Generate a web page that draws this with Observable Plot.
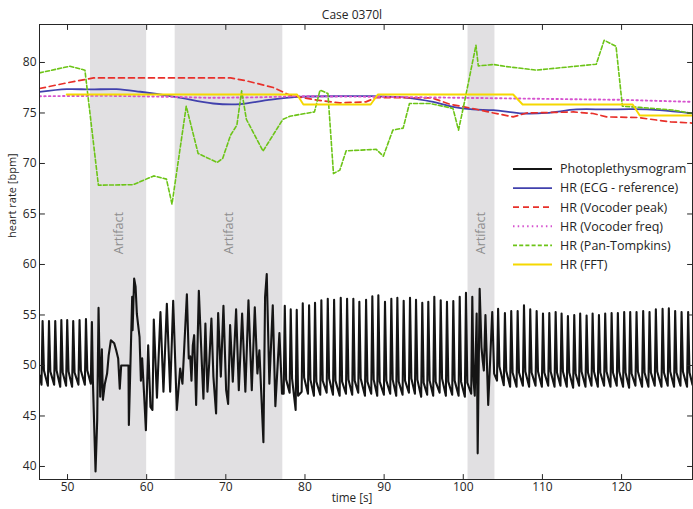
<!DOCTYPE html>
<html><head><meta charset="utf-8">
<script src="https://cdn.jsdelivr.net/npm/d3@7"></script>
<script src="https://cdn.jsdelivr.net/npm/@observablehq/plot@0.6"></script>
<style>
body{margin:0;background:#fff;}
#chart{position:relative;width:693px;height:509px;}
</style>
</head><body><div id="chart"></div>
<script>
// ---------- data ----------
const title = "Case 0370l";
const xLabel = "time [s]";
const yLabel = "heart rate [bpm]";
const xTicks = [50, 60, 70, 80, 90, 100, 110, 120];
const yTicks = [40, 45, 50, 55, 60, 65, 70, 75, 80];

const artifactStart = [52.9, 63.6, 100.6];
const artifactEnd = [60.0, 77.2, 104.0];
const artifactText = "Artifact";
const artifactLabelY = 63.1;

const seriesNames = ["Photoplethysmogram", "HR (ECG - reference)", "HR (Vocoder peak)", "HR (Vocoder freq)", "HR (Pan-Tompkins)", "HR (FFT)"];

// HR (ECG - reference)
const ecgT = [46.46, 49.9, 52.9, 56.2, 59.2, 63.6, 68.4, 71.8, 75.2, 79.0, 84.4, 88.6, 92.8, 96.2, 98.7, 101.2, 103.8, 107.5, 110.5, 114.3, 118.1, 121.4, 124.8, 128.96];
const ecgV = [77.09, 77.36, 77.33, 77.36, 77.1, 76.6, 75.94, 75.87, 76.27, 76.6, 76.66, 76.66, 76.53, 76.1, 75.6, 75.35, 75.28, 74.95, 75.0, 75.35, 75.35, 75.38, 75.28, 74.95];
// HR (Vocoder peak)
const peakT = [46.46, 49.9, 53.3, 70.6, 72.6, 76.0, 78.1, 81.5, 84.4, 87.7, 89.0, 96.0, 98.3, 101.2, 103.8, 106.3, 108.0, 113.9, 116.4, 118.1, 122.0, 126.2, 128.96];
const peakV = [77.42, 77.98, 78.47, 78.47, 78.18, 77.52, 76.76, 76.27, 76.0, 76.1, 76.53, 76.5, 75.87, 75.44, 75.0, 74.61, 75.0, 75.1, 74.95, 74.61, 74.55, 74.12, 74.0];
// HR (Vocoder freq)
const freqT = [46.46, 55, 63, 68, 74, 79, 90, 100, 110, 120, 128.96];
const freqV = [76.66, 76.7, 76.6, 76.5, 76.55, 76.66, 76.6, 76.5, 76.4, 76.3, 76.1];
// HR (Pan-Tompkins)
const panT = [46.46, 50.3, 52.2, 53.9, 58.3, 60.9, 62.5, 63.2, 65.0, 66.5, 68.9, 69.6, 70.6, 71.4, 72.0, 72.6, 74.7, 77.2, 78.1, 81.2, 81.9, 82.9, 83.6, 84.4, 85.2, 89.0, 89.9, 91.1, 92.4, 93.2, 95.8, 98.7, 99.4, 100.2, 101.6, 101.9, 103.8, 105.4, 109.2, 116.8, 117.8, 119.3, 120.1, 122.3, 126.4, 128.96];
const panV = [78.97, 79.63, 79.24, 67.85, 67.9, 68.77, 68.45, 65.97, 75.67, 70.99, 70.1, 70.5, 72.8, 73.8, 77.19, 74.36, 71.22, 74.36, 74.68, 75.11, 77.26, 76.93, 69.0, 69.34, 71.25, 71.4, 70.72, 73.3, 73.5, 75.94, 75.94, 75.45, 73.3, 76.27, 81.71, 79.66, 79.8, 79.6, 79.24, 79.83, 82.2, 81.6, 75.67, 75.55, 75.3, 74.95];
// HR (FFT)
const fftT = [49.9, 79.0, 79.8, 88.3, 89.2, 106.3, 107.5, 121.4, 122.3, 128.96];
const fftV = [76.83, 76.83, 75.84, 75.84, 76.83, 76.83, 75.84, 75.84, 74.75, 74.75];

// Photoplethysmogram: regular beats (peak time, peak value, foot value)
const beatT = [46.85, 47.66, 48.45, 49.22, 49.96, 50.72, 51.52, 52.33,
  77.45, 78.2, 78.96, 79.72, 80.52, 81.27, 82.07, 82.88, 83.68, 84.52, 85.32, 86.11, 86.87, 87.72, 88.51, 89.27, 90.11, 90.91, 91.67, 92.47, 93.27, 94.03, 94.82, 95.58, 96.34, 97.15, 97.94, 98.74, 99.55, 100.34,
  104.4, 105.26, 106.06, 106.87, 107.67, 108.46, 109.27, 110.07, 110.87, 111.67, 112.42, 113.22, 114.02, 114.77, 115.58, 116.34, 117.14, 117.93, 118.74, 119.53, 120.33, 121.09, 121.89, 122.73, 123.53, 124.33, 125.18, 125.97, 126.77, 127.58, 128.41];
const beatPeak = [54.4, 54.4, 54.4, 54.5, 54.5, 54.4, 54.5, 54.6,
  55.9, 55.55, 55.5, 56.15, 55.95, 56.2, 56.46, 56.6, 56.5, 56.7, 56.6, 56.6, 56.3, 56.5, 56.86, 56.96, 56.3, 56.6, 56.7, 56.4, 56.7, 56.5, 56.2, 56.3, 56.8, 56.46, 56.3, 56.37, 56.8, 57.2,
  55.6, 55.2, 55.4, 55.4, 55.97, 55.55, 55.4, 55.15, 55.2, 55.3, 55.15, 54.9, 55.0, 55.15, 54.95, 55.15, 55.0, 55.15, 55.2, 55.2, 55.3, 55.3, 55.3, 55.4, 55.3, 55.55, 55.6, 55.65, 55.4, 55.3, 55.3];
const beatFoot = [48.1, 48.0, 48.1, 47.9, 48.0, 47.9, 48.1, 48.1,
  47.2, 47.3, 45.6, 47.4, 47.2, 47.0, 47.1, 47.3, 47.1, 47.0, 47.2, 47.1, 47.3, 47.0, 47.2, 47.0, 47.1, 47.2, 47.0, 47.1, 47.3, 47.2, 46.9, 47.1, 47.0, 47.3, 47.0, 47.1, 47.0, 46.9,
  48.5, 48.05, 47.9, 47.9, 48.0, 47.9, 48.0, 47.9, 48.0, 47.9, 48.0, 47.9, 47.8, 48.0, 47.9, 48.0, 47.9, 48.0, 47.9, 48.0, 47.9, 47.8, 48.0, 47.9, 47.9, 48.0, 47.9, 48.0, 47.9, 48.0, 47.9];
const beatRise = 0.14, beatFall = 0.17, beatNotch = 1.4;

// Photoplethysmogram: irregular stretches traced point by point
const rawT = [46.5,
  52.94, 53.08, 53.2, 53.54, 53.75, 53.92, 54.13, 54.34, 54.47, 54.72, 55.0, 55.2, 55.48, 55.9, 56.15, 56.4, 56.6, 56.78, 57.7, 57.75, 58.17, 58.22, 58.42, 58.6, 58.76, 59.1, 59.27, 59.43, 59.69, 59.9, 60.19, 60.48, 60.73, 60.9, 61.3, 61.74, 62.12, 62.55, 62.97, 63.35, 63.81, 64.23, 64.52, 65.08, 65.32, 65.5, 65.66, 65.83, 66.0, 66.25, 66.59, 66.97, 67.17, 67.42, 67.68, 67.9, 68.18, 68.43, 68.77, 69.03, 69.37, 69.7, 70.04, 70.29, 70.54, 70.88, 71.3, 71.64, 72.06, 72.47, 72.86, 73.28, 73.66, 73.99, 74.24, 74.75, 74.96, 75.17, 75.5, 75.93, 76.26, 76.77, 77.1,
  101.0, 101.14, 101.3, 101.45, 101.69, 101.82, 102.07, 102.3, 102.45, 102.6, 102.8, 103.15, 103.66, 103.9,
  128.96];
const rawV = [49.0,
  48.2, 54.3, 48.6, 39.5, 44.6, 55.7, 46.9, 51.6, 46.6, 48.2, 49.2, 51.0, 52.5, 52.2, 51.5, 50.7, 47.7, 50.0, 50.0, 44.1, 56.8, 53.5, 58.6, 57.8, 55.1, 52.8, 48.5, 50.7, 46.9, 43.6, 52.0, 45.9, 45.6, 54.55, 46.8, 55.3, 47.4, 56.1, 47.4, 56.4, 45.6, 49.7, 48.2, 57.05, 50.7, 50.9, 48.5, 52.0, 53.0, 46.1, 57.4, 50.2, 46.7, 54.15, 47.4, 50.2, 54.65, 48.9, 45.25, 55.2, 48.9, 55.9, 47.55, 46.2, 54.0, 48.4, 55.55, 47.55, 55.15, 47.4, 56.46, 47.55, 55.75, 49.2, 51.5, 42.4, 56.8, 59.05, 48.2, 55.95, 45.97, 53.2, 47.2,
  47.2, 56.8, 48.5, 47.0, 55.15, 41.3, 57.6, 51.8, 50.5, 49.5, 55.0, 46.1, 55.3, 49.2,
  48.1];

// ---------- build tables ----------
const zip = (T, V) => T.map((t, i) => ({t, v: V[i]}));
const artifacts = artifactStart.map((s, i) => ({start: s, end: artifactEnd[i], mid: (s + artifactEnd[i]) / 2}));
const ppg = zip(rawT, rawV);
beatT.forEach((t, i) => {
  ppg.push({t: t - beatRise, v: beatFoot[i]}, {t, v: beatPeak[i]}, {t: t + beatFall, v: beatFoot[i] + beatNotch});
});
ppg.sort((a, b) => a.t - b.t);

const styles = [
  {stroke: "#151515", strokeWidth: 2.1, dash: null},
  {stroke: "#4141ad", strokeWidth: 1.8, dash: null},
  {stroke: "#e8302a", strokeWidth: 1.7, dash: "6,4"},
  {stroke: "#d653cf", strokeWidth: 1.9, dash: "1.5,3.2"},
  {stroke: "#6cc417", strokeWidth: 1.6, dash: "4,2.2"},
  {stroke: "#f5d800", strokeWidth: 1.9, dash: null}
];
const series = [ppg, zip(ecgT, ecgV), zip(peakT, peakV), zip(freqT, freqV), zip(panT, panV), zip(fftT, fftV)];

const lineMarks = series.map((data, i) => Plot.line(data, {
  x: "t", y: "v", stroke: styles[i].stroke, strokeWidth: styles[i].strokeWidth,
  strokeDasharray: styles[i].dash, curve: i === 1 ? "catmull-rom" : "linear", clip: true
}));

// inward tick marks on all four sides
const tickShape = {draw(context, l) { context.moveTo(0, 0); context.lineTo(0, -l); }};
const axisColor = "#262626";
const tickOpts = {length: 5, anchor: "start", shape: tickShape, stroke: axisColor, strokeWidth: 1};
const tickMarks = [
  Plot.vector(xTicks, {...tickOpts, x: d => d, frameAnchor: "bottom", rotate: 0}),
  Plot.vector(xTicks, {...tickOpts, x: d => d, frameAnchor: "top", rotate: 180}),
  Plot.vector(yTicks, {...tickOpts, y: d => d, frameAnchor: "left", rotate: 90}),
  Plot.vector(yTicks, {...tickOpts, y: d => d, frameAnchor: "right", rotate: -90})
];

const font = "'Open Sans', 'DejaVu Sans', sans-serif";
const plot = Plot.plot({
  width: 693, height: 509,
  marginLeft: 39, marginRight: 1, marginTop: 24, marginBottom: 30,
  style: {fontFamily: font, fontSize: "12px", color: axisColor, background: "#fff", overflow: "visible"},
  x: {domain: [46.46, 128.96]},
  y: {domain: [38.71, 83.76]},
  marks: [
    Plot.rect(artifacts, {x1: "start", x2: "end", fill: "#e1e0e2"}),
    Plot.text(artifacts, {x: "mid", y: () => artifactLabelY, text: () => artifactText, rotate: -90, fill: "#8f8f8f", fontSize: 12.5}),
    ...lineMarks,
    Plot.frame({stroke: axisColor}),
    ...tickMarks,
    Plot.axisX({ticks: xTicks, tickSize: 0, tickPadding: 3, label: null}),
    Plot.axisY({ticks: yTicks, tickSize: 0, tickPadding: 3, label: null}),
    Plot.text([xLabel], {frameAnchor: "bottom", dy: 22, dx: -14, fontSize: 11.7, fill: axisColor}),
    Plot.text([yLabel], {frameAnchor: "left", rotate: -90, dx: -27, dy: -14, fontSize: 11, fill: axisColor}),
    Plot.text([title], {frameAnchor: "top", dy: -14, dx: -14, fontSize: 12, fill: axisColor})
  ]
});
document.getElementById("chart").appendChild(plot);

// legend (inside the plot area, right side)
const legendX1 = 513, legendX2 = 552, legendTextX = 560, legendTop = 169, legendGap = 19.1;
const svg = d3.select(plot);
const lg = svg.append("g").attr("font-family", font).attr("font-size", 12.5).attr("fill", axisColor).attr("text-anchor", "start");
seriesNames.forEach((name, i) => {
  const y = legendTop + i * legendGap;
  lg.append("line").attr("x1", legendX1).attr("x2", legendX2).attr("y1", y).attr("y2", y)
    .attr("stroke", styles[i].stroke).attr("stroke-width", styles[i].strokeWidth)
    .attr("stroke-dasharray", styles[i].dash);
  lg.append("text").attr("x", legendTextX).attr("y", y).attr("dy", "0.35em").attr("text-anchor", "start").text(name);
});
</script>
</body></html>
